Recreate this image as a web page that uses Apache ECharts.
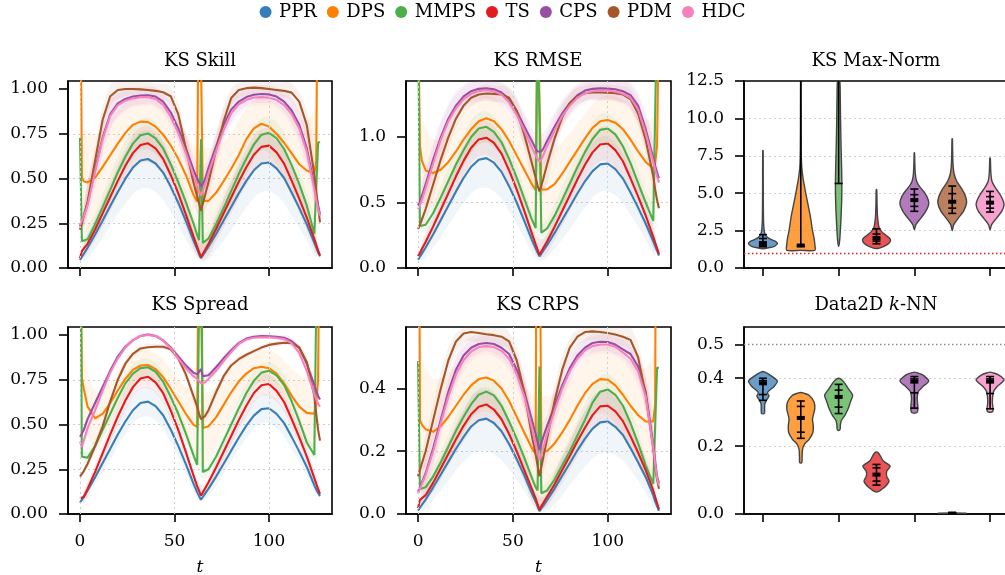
<!DOCTYPE html>
<html>
<head>
<meta charset="utf-8">
<script src="https://cdn.jsdelivr.net/npm/echarts@6/dist/echarts.min.js"></script>
<style>
html,body{margin:0;padding:0;background:#fff}
#chart{width:1005px;height:575px}
</style>
</head>
<body>
<div id="chart"></div>
<script>
// ---- methods and colours ----
const methods = ['PPR', 'DPS', 'MMPS', 'TS', 'CPS', 'PDM', 'HDC'];
const colors = ['#377eb8', '#ff7f00', '#4daf4a', '#e41a1c', '#984ea3', '#a65628', '#f781bf'];

// ---- time steps of the line panels ----
const T = [0,1,2,4, 8,12,16,20,24,28,32,36,40,44,48,52,56,60, 62,63,64,65,66, 68,
           72,76,80,84,88,92,96,100,104,108,112,116,120,124, 125,126,127];
// time steps where the ensemble spread is given
const BT = [2,8,16,24,32,40,48,56,62,66,72,80,88,96,104,112,120,125];

// ---- tick labels ----
const tTicks = [0, 50, 100];
const skillTicks = [0, 0.25, 0.5, 0.75, 1.0];
const rmseTicks = [0, 0.5, 1.0];
const spreadTicks = [0, 0.25, 0.5, 0.75, 1.0];
const crpsTicks = [0, 0.2, 0.4];
const maxNormTicks = [0, 2.5, 5, 7.5, 10, 12.5];
const knnTicks = [0, 0.2, 0.4, 0.5];
const maxNormRef = 1.0;
const knnRef = 0.5;

// ---- KS Skill ----
const skillPPR = [0.045,0.062,0.079,0.113, 0.187,0.266,0.346,0.425,0.499,0.561,0.601,0.609,0.584,0.533,0.455,0.365,0.263,0.155, 0.105,0.078,0.055,0.071,0.087, 0.120, 0.190,0.266,0.341,0.417,0.487,0.546,0.584,0.590,0.557,0.503,0.422,0.336,0.244,0.141, 0.114,0.087,0.065];
const skillDPS = [2,0.50,0.485,0.478, 0.505,0.565,0.63,0.695,0.755,0.80,0.818,0.815,0.79,0.745,0.685,0.61,0.52,0.41, 0.37,2,2,0.375,0.368, 0.375, 0.42,0.485,0.555,0.63,0.72,0.78,0.806,0.79,0.75,0.70,0.64,0.58,0.545,0.53, 0.60,2,2];
const skillMMPS = [0.726,0.150,0.148,0.160, 0.245,0.340,0.437,0.535,0.622,0.695,0.742,0.752,0.725,0.668,0.580,0.480,0.370,0.250, 0.185,0.155,0.720,0.140,0.140, 0.165, 0.245,0.335,0.430,0.525,0.610,0.690,0.745,0.755,0.725,0.665,0.575,0.470,0.350,0.190, 0.180,0.700,0.705];
const skillTS = [0.055,0.095,0.105,0.135, 0.215,0.306,0.397,0.487,0.571,0.642,0.687,0.697,0.668,0.610,0.520,0.417,0.300,0.178, 0.120,0.090,0.060,0.079,0.098, 0.136, 0.218,0.306,0.394,0.482,0.563,0.633,0.677,0.684,0.646,0.583,0.488,0.388,0.281,0.161, 0.129,0.098,0.070];
const skillCPS = [0.233,0.26,0.29,0.36, 0.55,0.73,0.86,0.92,0.945,0.958,0.964,0.965,0.958,0.93,0.87,0.78,0.67,0.55, 0.50,0.48,0.456,0.47,0.49, 0.56, 0.68,0.80,0.885,0.93,0.955,0.968,0.972,0.97,0.958,0.93,0.88,0.80,0.67,0.46, 0.40,0.35,0.30];
const skillPDM = [0.214,0.25,0.29,0.37, 0.60,0.83,0.96,0.995,1.0,1.0,0.998,0.995,0.99,0.982,0.96,0.86,0.67,0.48, 0.40,0.36,0.32,0.36,0.40, 0.48, 0.66,0.82,0.95,0.995,1.005,1.008,1.005,1.0,0.995,0.99,0.98,0.93,0.80,0.52, 0.43,0.34,0.255];
const skillHDC = [0.24,0.265,0.29,0.35, 0.54,0.72,0.85,0.91,0.935,0.948,0.954,0.955,0.945,0.912,0.845,0.755,0.645,0.52, 0.46,0.43,0.405,0.43,0.46, 0.53, 0.655,0.77,0.865,0.915,0.94,0.953,0.955,0.952,0.94,0.91,0.86,0.78,0.65,0.44, 0.38,0.33,0.29];

const skillBandPPR = [0.04,0.08,0.11,0.14,0.16,0.16,0.14,0.10,0.05,0.05,0.09,0.13,0.15,0.16,0.15,0.13,0.09,0.05];
const skillBandDPS = [0.28,0.24,0.20,0.17,0.15,0.15,0.18,0.24,0.30,0.30,0.26,0.20,0.17,0.15,0.17,0.22,0.28,0.30];
const skillBandMMPS = [0.04,0.06,0.08,0.09,0.09,0.09,0.08,0.07,0.05,0.05,0.07,0.08,0.09,0.09,0.09,0.08,0.07,0.05];
const skillBandTS = [0.04,0.06,0.08,0.09,0.10,0.10,0.09,0.07,0.05,0.05,0.07,0.09,0.10,0.10,0.10,0.09,0.07,0.05];
const skillBandCPS = [0.06,0.09,0.08,0.06,0.05,0.05,0.06,0.08,0.09,0.09,0.08,0.07,0.05,0.05,0.05,0.07,0.09,0.08];
const skillBandPDM = [0.05,0.08,0.06,0.04,0.04,0.04,0.05,0.08,0.09,0.09,0.08,0.05,0.04,0.04,0.04,0.05,0.08,0.08];
const skillBandHDC = [0.06,0.09,0.08,0.06,0.05,0.05,0.06,0.08,0.09,0.09,0.08,0.07,0.05,0.05,0.05,0.07,0.09,0.08];

// ---- KS RMSE ----
const rmsePPR = [0.063,0.086,0.11,0.157, 0.258,0.367,0.476,0.585,0.687,0.773,0.827,0.839,0.804,0.734,0.625,0.500,0.360,0.215, 0.150,0.118,0.089,0.110,0.132, 0.175, 0.268,0.368,0.468,0.569,0.662,0.740,0.791,0.798,0.755,0.683,0.576,0.461,0.340,0.204, 0.168,0.132,0.094];
const rmseDPS = [2,0.93,0.82,0.745, 0.725,0.75,0.81,0.89,0.98,1.06,1.12,1.143,1.12,1.06,0.97,0.86,0.75,0.64, 0.595,2,2,0.60,0.59, 0.60, 0.64,0.72,0.81,0.90,0.99,1.07,1.12,1.13,1.11,1.06,0.98,0.89,0.81,0.76, 0.80,0.93,2];
const rmseMMPS = [2,0.32,0.315,0.33, 0.42,0.54,0.665,0.79,0.90,1.0,1.065,1.078,1.04,0.96,0.835,0.69,0.53,0.37, 0.305,2,2,0.27,0.27, 0.30, 0.40,0.52,0.645,0.77,0.885,0.985,1.055,1.065,1.02,0.93,0.80,0.65,0.50,0.36, 0.36,2,2];
const rmseTS = [0.09,0.117,0.145,0.199, 0.318,0.445,0.572,0.700,0.818,0.918,0.982,0.995,0.955,0.873,0.745,0.600,0.436,0.265, 0.18,0.14,0.10,0.126,0.152, 0.203, 0.315,0.435,0.556,0.676,0.788,0.883,0.943,0.951,0.900,0.815,0.685,0.547,0.401,0.238, 0.195,0.152,0.105];
const rmseCPS = [0.477,0.51,0.55,0.64, 0.83,1.0,1.14,1.24,1.31,1.35,1.368,1.372,1.365,1.34,1.29,1.2,1.08,0.97, 0.91,0.89,0.876,0.89,0.91, 0.97, 1.08,1.18,1.26,1.32,1.355,1.368,1.372,1.37,1.365,1.35,1.32,1.24,1.06,0.84, 0.78,0.73,0.685];
const rmsePDM = [0.297,0.33,0.37,0.45, 0.64,0.83,1.0,1.14,1.24,1.30,1.325,1.332,1.33,1.325,1.30,1.2,1.02,0.80, 0.69,0.63,0.584,0.63,0.68, 0.79, 0.99,1.15,1.26,1.31,1.335,1.34,1.34,1.338,1.335,1.325,1.29,1.18,0.98,0.70, 0.60,0.52,0.457];
const rmseHDC = [0.449,0.48,0.52,0.61, 0.80,0.98,1.12,1.22,1.29,1.33,1.352,1.358,1.35,1.325,1.265,1.17,1.05,0.92, 0.86,0.835,0.81,0.83,0.86, 0.93, 1.05,1.16,1.24,1.30,1.335,1.35,1.356,1.355,1.348,1.33,1.30,1.21,1.03,0.81, 0.75,0.70,0.652];

const rmseBandPPR = [0.05,0.10,0.15,0.19,0.22,0.22,0.19,0.13,0.07,0.07,0.12,0.17,0.20,0.21,0.20,0.17,0.12,0.07];
const rmseBandDPS = [0.30,0.26,0.22,0.20,0.18,0.18,0.20,0.25,0.30,0.30,0.27,0.22,0.19,0.18,0.20,0.25,0.32,0.35];
const rmseBandMMPS = [0.05,0.08,0.10,0.12,0.12,0.12,0.11,0.09,0.07,0.07,0.09,0.11,0.12,0.12,0.12,0.11,0.09,0.07];
const rmseBandTS = [0.05,0.08,0.11,0.12,0.13,0.13,0.12,0.10,0.07,0.07,0.10,0.12,0.13,0.13,0.13,0.12,0.10,0.07];
const rmseBandCPS = [0.08,0.12,0.11,0.09,0.08,0.08,0.09,0.11,0.12,0.12,0.11,0.09,0.08,0.08,0.08,0.10,0.12,0.11];
const rmseBandPDM = [0.07,0.11,0.09,0.07,0.06,0.06,0.07,0.11,0.12,0.12,0.11,0.07,0.06,0.06,0.06,0.07,0.11,0.11];
const rmseBandHDC = [0.08,0.12,0.11,0.09,0.08,0.08,0.09,0.11,0.12,0.12,0.11,0.09,0.08,0.08,0.08,0.10,0.12,0.11];

// ---- KS Spread ----
const sprPPR = [0.063,0.08,0.097,0.131, 0.205,0.285,0.364,0.444,0.517,0.580,0.620,0.628,0.603,0.552,0.472,0.381,0.279,0.171, 0.121,0.10,0.08,0.095,0.111, 0.142, 0.209,0.281,0.354,0.426,0.494,0.550,0.586,0.591,0.560,0.508,0.431,0.350,0.263,0.160, 0.137,0.118,0.10];
const sprDPS = [2,0.76,0.70,0.60, 0.535,0.56,0.62,0.69,0.755,0.805,0.83,0.833,0.81,0.765,0.70,0.63,0.56,0.50, 0.487,2,2,0.48,0.478, 0.49, 0.54,0.61,0.68,0.74,0.785,0.815,0.823,0.815,0.785,0.73,0.66,0.60,0.565,0.56, 0.62,0.75,2];
const sprMMPS = [2,0.32,0.31,0.315, 0.38,0.47,0.56,0.65,0.73,0.785,0.815,0.82,0.795,0.74,0.655,0.56,0.45,0.33, 0.275,0.27,2,0.235,0.235, 0.25, 0.32,0.41,0.50,0.59,0.675,0.745,0.79,0.80,0.775,0.72,0.63,0.52,0.40,0.33, 0.33,2,2];
const sprTS = [0.0875,0.09,0.095,0.14, 0.235,0.34,0.445,0.545,0.634,0.709,0.757,0.767,0.736,0.675,0.579,0.470,0.347,0.217, 0.156,0.13,0.102,0.12,0.14, 0.178, 0.26,0.348,0.436,0.524,0.605,0.676,0.719,0.726,0.688,0.626,0.531,0.430,0.322,0.20, 0.17,0.14,0.112];
const sprCPS = [0.432,0.44,0.47,0.53, 0.62,0.71,0.80,0.88,0.935,0.97,0.995,1.003,0.995,0.97,0.93,0.88,0.83,0.79, 0.78,0.79,0.81,0.77,0.765, 0.775, 0.82,0.87,0.915,0.955,0.98,0.99,0.994,0.993,0.99,0.985,0.965,0.93,0.84,0.72, 0.69,0.66,0.64];
const sprPDM = [0.209,0.22,0.24,0.28, 0.38,0.49,0.63,0.75,0.84,0.895,0.925,0.932,0.935,0.935,0.92,0.87,0.78,0.66, 0.60,0.56,0.53,0.535,0.545, 0.58, 0.68,0.77,0.83,0.865,0.89,0.91,0.93,0.945,0.952,0.957,0.955,0.93,0.85,0.66, 0.56,0.47,0.41];
const sprHDC = [0.404,0.375,0.41,0.48, 0.58,0.69,0.79,0.87,0.93,0.97,0.995,1.0,0.995,0.97,0.925,0.87,0.815,0.77, 0.755,0.745,0.73,0.73,0.735, 0.755, 0.80,0.855,0.905,0.95,0.975,0.985,0.988,0.987,0.984,0.978,0.955,0.90,0.80,0.67, 0.64,0.615,0.60];

const sprBandPPR = [0.03,0.04,0.06,0.07,0.08,0.08,0.07,0.05,0.03,0.03,0.05,0.06,0.07,0.08,0.08,0.07,0.05,0.03];
const sprBandDPS = [0.20,0.15,0.12,0.10,0.09,0.09,0.11,0.15,0.20,0.20,0.17,0.13,0.10,0.09,0.11,0.15,0.20,0.22];
const sprBandMMPS = [0.03,0.04,0.05,0.05,0.05,0.05,0.05,0.04,0.04,0.04,0.04,0.05,0.05,0.05,0.05,0.05,0.04,0.03];
const sprBandTS = [0.03,0.04,0.05,0.06,0.06,0.06,0.05,0.04,0.03,0.03,0.04,0.05,0.06,0.06,0.06,0.05,0.04,0.03];
const sprBandCPS = [0.02,0.02,0.02,0.015,0.01,0.01,0.015,0.02,0.02,0.02,0.02,0.02,0.01,0.01,0.01,0.02,0.02,0.02];
const sprBandPDM = [0.02,0.03,0.02,0.02,0.015,0.015,0.02,0.03,0.03,0.03,0.03,0.02,0.015,0.015,0.015,0.02,0.03,0.03];
const sprBandHDC = [0.02,0.02,0.02,0.015,0.01,0.01,0.015,0.02,0.02,0.02,0.02,0.02,0.01,0.01,0.01,0.02,0.02,0.02];

// ---- KS CRPS ----
const crpsPPR = [0.011,0.02,0.029,0.046, 0.085,0.126,0.167,0.208,0.246,0.279,0.299,0.304,0.290,0.264,0.223,0.175,0.123,0.066, 0.04,0.024,0.009,0.018,0.026, 0.044, 0.081,0.122,0.162,0.203,0.24,0.272,0.292,0.295,0.278,0.252,0.21,0.165,0.118,0.06, 0.04,0.025,0.01];
const crpsDPS = [2,0.30,0.285,0.27, 0.262,0.28,0.31,0.345,0.38,0.41,0.43,0.435,0.425,0.40,0.36,0.31,0.26,0.21, 0.192,2,2,0.20,0.195, 0.20, 0.225,0.26,0.30,0.345,0.385,0.415,0.43,0.428,0.41,0.38,0.345,0.315,0.295,0.295, 0.35,2,2];
const crpsMMPS = [0.487,0.08,0.08,0.085, 0.12,0.165,0.215,0.265,0.31,0.35,0.38,0.39,0.378,0.345,0.295,0.24,0.18,0.115, 0.085,0.075,0.47,0.066,0.066, 0.075, 0.11,0.155,0.20,0.25,0.30,0.355,0.39,0.397,0.38,0.345,0.29,0.225,0.155,0.096, 0.096,0.466,0.466];
const crpsTS = [0.018,0.045,0.05,0.06, 0.10,0.146,0.192,0.238,0.281,0.318,0.342,0.349,0.333,0.302,0.255,0.20,0.14,0.08, 0.05,0.032,0.013,0.025,0.035, 0.055, 0.095,0.14,0.185,0.232,0.275,0.315,0.343,0.345,0.327,0.296,0.248,0.196,0.14,0.075, 0.055,0.035,0.015];
const crpsCPS = [0.071,0.085,0.10,0.13, 0.21,0.30,0.39,0.46,0.505,0.53,0.542,0.545,0.542,0.53,0.51,0.46,0.39,0.30, 0.255,0.23,0.205,0.225,0.245, 0.28, 0.345,0.41,0.465,0.505,0.53,0.545,0.549,0.548,0.54,0.525,0.51,0.47,0.39,0.22, 0.17,0.12,0.098];
const crpsPDM = [0.12,0.14,0.16,0.20, 0.30,0.40,0.49,0.55,0.575,0.58,0.577,0.573,0.57,0.565,0.55,0.49,0.39,0.25, 0.19,0.155,0.12,0.15,0.18, 0.24, 0.36,0.46,0.53,0.565,0.58,0.582,0.58,0.577,0.572,0.565,0.555,0.50,0.38,0.21, 0.15,0.11,0.08];
const crpsHDC = [0.065,0.08,0.095,0.125, 0.20,0.29,0.375,0.445,0.49,0.518,0.532,0.535,0.532,0.52,0.495,0.445,0.375,0.275, 0.22,0.195,0.173,0.19,0.21, 0.255, 0.33,0.40,0.455,0.495,0.522,0.535,0.54,0.54,0.533,0.515,0.495,0.455,0.375,0.21, 0.16,0.115,0.09];

const crpsBandPPR = [0.02,0.04,0.06,0.08,0.10,0.10,0.08,0.05,0.02,0.02,0.05,0.07,0.09,0.10,0.09,0.07,0.05,0.02];
const crpsBandDPS = [0.20,0.17,0.14,0.12,0.11,0.11,0.12,0.15,0.18,0.18,0.16,0.13,0.11,0.11,0.12,0.14,0.17,0.18];
const crpsBandMMPS = [0.02,0.03,0.04,0.05,0.05,0.05,0.045,0.035,0.025,0.025,0.035,0.045,0.05,0.05,0.05,0.045,0.035,0.02];
const crpsBandTS = [0.02,0.03,0.04,0.05,0.05,0.05,0.045,0.035,0.02,0.02,0.035,0.045,0.05,0.05,0.05,0.045,0.035,0.02];
const crpsBandCPS = [0.03,0.05,0.05,0.04,0.03,0.03,0.04,0.05,0.05,0.05,0.05,0.04,0.03,0.03,0.03,0.04,0.05,0.05];
const crpsBandPDM = [0.03,0.05,0.04,0.03,0.03,0.03,0.03,0.05,0.05,0.05,0.05,0.03,0.03,0.03,0.03,0.04,0.05,0.05];
const crpsBandHDC = [0.03,0.05,0.05,0.04,0.03,0.03,0.04,0.05,0.05,0.05,0.05,0.04,0.03,0.03,0.03,0.04,0.05,0.05];

// ---- KS Max-Norm violins: [value, half width in category units] ----
const maxNormPPR = [[1.29,0],[1.35,0.15],[1.45,0.30],[1.58,0.37],[1.67,0.38],[1.78,0.33],[1.9,0.22],[2.05,0.12],[2.2,0.07],[2.4,0.04],[2.7,0.025],[3.2,0.015],[4.5,0.01],[6,0.008],[7.8,0.006],[7.85,0]];
const maxNormDPS = [[1.18,0],[1.18,0.37],[1.6,0.37],[2.0,0.35],[2.5,0.31],[3.0,0.28],[3.5,0.25],[4.0,0.21],[4.5,0.17],[5.0,0.13],[5.5,0.095],[6.0,0.06],[6.5,0.035],[7.0,0.02],[8,0.012],[10,0.008],[13.5,0.006],[14,0]];
const maxNormMMPS = [[1.45,0],[1.8,0.025],[2.5,0.045],[3.5,0.065],[4.5,0.08],[5.5,0.085],[6.5,0.08],[8,0.065],[10,0.05],[12,0.04],[14,0.03],[14.5,0]];
const maxNormTS = [[1.3,0],[1.45,0.2],[1.65,0.33],[1.85,0.37],[2.0,0.34],[2.2,0.24],[2.45,0.13],[2.7,0.07],[3.0,0.045],[3.5,0.025],[4.2,0.015],[5.2,0.008],[5.25,0]];
const maxNormCPS = [[2.55,0],[2.9,0.04],[3.3,0.16],[3.7,0.28],[4.1,0.36],[4.35,0.38],[4.6,0.36],[5.0,0.28],[5.4,0.15],[5.8,0.06],[6.3,0.025],[7,0.012],[7.65,0.006],[7.7,0]];
const maxNormPDM = [[2.5,0],[2.9,0.04],[3.3,0.15],[3.8,0.30],[4.35,0.38],[4.8,0.35],[5.3,0.25],[5.8,0.12],[6.3,0.05],[7,0.02],[8,0.01],[8.6,0.006],[8.65,0]];
const maxNormHDC = [[2.55,0],[2.9,0.04],[3.3,0.16],[3.8,0.31],[4.25,0.37],[4.6,0.33],[5.0,0.24],[5.4,0.13],[5.8,0.05],[6.4,0.02],[7.3,0.008],[7.35,0]];
// quantile marks: [low, q1, median, q3, high]
const maxNormQPPR = [1.42,1.52,1.67,1.97,2.23];
const maxNormQDPS = [1.46,1.48,1.50,14,20];
const maxNormQMMPS = [5.65,14,18,22,30];
const maxNormQTS = [1.62,1.80,2.00,2.27,2.62];
const maxNormQCPS = [3.79,4.12,4.54,4.90,5.28];
const maxNormQPDM = [3.65,4.00,4.43,4.97,5.48];
const maxNormQHDC = [3.74,4.00,4.37,4.77,5.12];

// ---- Data2D k-NN violins ----
const knnPPR = [[0.295,0],[0.297,0.04],[0.31,0.045],[0.325,0.05],[0.338,0.11],[0.348,0.16],[0.357,0.12],[0.365,0.18],[0.375,0.29],[0.392,0.38],[0.41,0.18],[0.418,0.05],[0.42,0]];
const knnDPS = [[0.15,0],[0.152,0.03],[0.17,0.035],[0.19,0.045],[0.206,0.10],[0.22,0.22],[0.24,0.32],[0.26,0.33],[0.28,0.31],[0.31,0.37],[0.33,0.35],[0.35,0.22],[0.356,0.08],[0.358,0]];
const knnMMPS = [[0.246,0],[0.25,0.04],[0.262,0.045],[0.275,0.07],[0.29,0.16],[0.31,0.25],[0.33,0.31],[0.35,0.37],[0.37,0.25],[0.39,0.13],[0.398,0.05],[0.40,0]];
const knnTS = [[0.065,0],[0.067,0.06],[0.072,0.13],[0.082,0.24],[0.097,0.33],[0.111,0.27],[0.126,0.27],[0.141,0.36],[0.156,0.18],[0.171,0.10],[0.18,0.05],[0.183,0]];
const knnCPS = [[0.297,0],[0.299,0.07],[0.305,0.09],[0.32,0.09],[0.34,0.075],[0.36,0.10],[0.375,0.22],[0.392,0.38],[0.41,0.22],[0.416,0.08],[0.418,0]];
const knnPDM = [[0.0,0],[0.0005,0.37],[0.0025,0.37],[0.003,0]];
const knnHDC = [[0.30,0],[0.302,0.07],[0.31,0.08],[0.33,0.06],[0.36,0.09],[0.375,0.18],[0.395,0.37],[0.41,0.22],[0.416,0.08],[0.418,0]];
const knnQPPR = [0.335,0.352,0.385,0.393,0.400];
const knnQDPS = [0.223,0.241,0.283,0.317,0.333];
const knnQMMPS = [0.296,0.315,0.345,0.365,0.382];
const knnQTS = [0.085,0.097,0.116,0.136,0.146];
const knnQCPS = [0.312,0.357,0.390,0.398,0.405];
const knnQPDM = [0.001,0.0012,0.0015,0.0018,0.002];
const knnQHDC = [0.310,0.355,0.390,0.398,0.405];

// ---------------------------------------------------------------
const FONT = 'DejaVu Serif';
const TICK_SIZE = 17;
const TITLE_SIZE = 18;
const LEGEND_SIZE = 18;
const LINE_W = 1.6;

function rgba(hex, a) {
  const n = parseInt(hex.slice(1), 16);
  return 'rgba(' + (n >> 16 & 255) + ',' + (n >> 8 & 255) + ',' + (n & 255) + ',' + a + ')';
}

const panels = [
  { title: 'KS Skill',  lines: [skillPPR, skillDPS, skillMMPS, skillTS, skillCPS, skillPDM, skillHDC],
    bands: [skillBandPPR, skillBandDPS, skillBandMMPS, skillBandTS, skillBandCPS, skillBandPDM, skillBandHDC],
    max: 1.045, interval: 0.25, ticks: skillTicks, dec: 2 },
  { title: 'KS RMSE',   lines: [rmsePPR, rmseDPS, rmseMMPS, rmseTS, rmseCPS, rmsePDM, rmseHDC],
    bands: [rmseBandPPR, rmseBandDPS, rmseBandMMPS, rmseBandTS, rmseBandCPS, rmseBandPDM, rmseBandHDC],
    max: 1.428, interval: 0.5, ticks: rmseTicks, dec: 1 },
  null,
  { title: 'KS Spread', lines: [sprPPR, sprDPS, sprMMPS, sprTS, sprCPS, sprPDM, sprHDC],
    bands: [sprBandPPR, sprBandDPS, sprBandMMPS, sprBandTS, sprBandCPS, sprBandPDM, sprBandHDC],
    max: 1.045, interval: 0.25, ticks: spreadTicks, dec: 2 },
  { title: 'KS CRPS',   lines: [crpsPPR, crpsDPS, crpsMMPS, crpsTS, crpsCPS, crpsPDM, crpsHDC],
    bands: [crpsBandPPR, crpsBandDPS, crpsBandMMPS, crpsBandTS, crpsBandCPS, crpsBandPDM, crpsBandHDC],
    max: 0.596, interval: 0.2, ticks: crpsTicks, dec: 1 },
  null
];

const gridRects = [
  [68, 81, 264, 187], [406, 81, 265, 187], [744, 81, 265, 187],
  [68, 327, 264, 187], [406, 327, 265, 187], [744, 327, 265, 187]
];

const grids = gridRects.map(([l, t, w, h]) => ({
  left: l, top: t, width: w, height: h,
  show: true, borderColor: '#000', borderWidth: LINE_W, backgroundColor: 'transparent',
  containLabel: false, outerBoundsMode: 'none'
}));

const axisLine = { show: true, onZero: false, lineStyle: { color: '#000', width: LINE_W } };
const tickStyle = { color: '#000', width: LINE_W };
const labelStyle = { fontFamily: FONT, fontSize: TICK_SIZE, color: '#000' };
const gridLine = { show: true, showMinLine: false, showMaxLine: false,
  lineStyle: { color: '#cfcfcf', width: 1, type: [2, 3] } };

// one x axis and one y axis per grid, stored at the grid's index
const xAxes = new Array(6), yAxes = new Array(6), series = [];

function yAxisFor(gi, max, interval, ticks, dec) {
  return {
    type: 'value', gridIndex: gi, min: 0, max: max, interval: interval,
    axisLine: axisLine,
    axisTick: { show: true, length: 9, customValues: ticks, lineStyle: tickStyle },
    axisLabel: Object.assign({ show: true, margin: 20, customValues: ticks,
      formatter: v => Number(v).toFixed(dec) }, labelStyle),
    splitLine: gridLine
  };
}

panels.forEach((p, gi) => {
  if (!p) return;
  const bottom = gi >= 3;
  xAxes[gi] = {
    type: 'value', gridIndex: gi, min: -6.35, max: 133.35,
    axisLine: axisLine,
    axisTick: { show: true, length: 8, customValues: tTicks, lineStyle: tickStyle },
    axisLabel: Object.assign({ show: bottom, margin: 19, customValues: tTicks,
      formatter: v => String(v) }, labelStyle),
    splitLine: { show: false },
    name: bottom ? 't' : '', nameLocation: 'middle', nameGap: 45,
    nameTextStyle: { fontFamily: FONT, fontSize: TICK_SIZE, fontStyle: 'italic', color: '#000' }
  };
  yAxes[gi] = yAxisFor(gi, p.max, p.interval, p.ticks, p.dec);

  // vertical dotted guides at the labelled time steps
  series.push({
    type: 'line', xAxisIndex: gi, yAxisIndex: gi, data: [], z: 1, silent: true,
    markLine: { silent: true, symbol: ['none', 'none'], label: { show: false }, animation: false,
      lineStyle: { color: '#cfcfcf', width: 1, type: [2, 3] },
      data: tTicks.map(t => ({ xAxis: t })) }
  });

  // ensemble spread bands
  p.bands.forEach((spread, m) => {
    const vals = p.lines[m];
    const pts = BT.map((t, k) => {
      const c = vals[T.indexOf(t)];
      return [t, c - spread[k], c + spread[k]];
    });
    series.push({
      type: 'custom', xAxisIndex: gi, yAxisIndex: gi, z: 2, silent: true,
      data: pts, encode: { x: 0, y: [1, 2] },
      renderItem: (params, api) => {
        if (params.dataIndex !== 0) return null;
        const cs = params.coordSys;
        const cl = y => Math.max(cs.y, Math.min(cs.y + cs.height, y));
        const up = pts.map(q => api.coord([q[0], q[2]]));
        const lo = pts.map(q => api.coord([q[0], q[1]])).reverse();
        const points = up.concat(lo).map(([x, y]) => [x, cl(y)]);
        return { type: 'polygon', shape: { points: points, smooth: 0.45 },
          style: { fill: rgba(colors[m], 0.08) }, silent: true };
      }
    });
  });

  // mean curves
  p.lines.forEach((vals, m) => {
    series.push({
      type: 'line', name: methods[m], xAxisIndex: gi, yAxisIndex: gi, z: 3,
      data: T.map((t, k) => [t, vals[k]]),
      symbol: 'none', clip: true,
      lineStyle: { color: colors[m], width: 2.1 },
      itemStyle: { color: colors[m] }
    });
  });
});

function addViolinPanel(gi, profiles, quants, max, interval, ticks, ref, refColor) {
  xAxes[gi] = {
    type: 'category', gridIndex: gi, data: methods, boundaryGap: true,
    axisLine: axisLine,
    axisTick: { show: true, length: 8, alignWithLabel: true, lineStyle: tickStyle },
    axisLabel: { show: false }, splitLine: { show: false }
  };
  yAxes[gi] = yAxisFor(gi, max, interval, ticks, 1);
  series.push({
    type: 'line', xAxisIndex: gi, yAxisIndex: gi, data: [], z: 1, silent: true,
    markLine: { silent: true, symbol: ['none', 'none'], label: { show: false }, animation: false,
      lineStyle: { color: refColor, width: 1.3, type: [1.5, 2.5] },
      data: [{ yAxis: ref }] }
  });
  series.push({
    type: 'custom', xAxisIndex: gi, yAxisIndex: gi, z: 3, clip: true, silent: true,
    data: profiles.map((p, i) => [i, quants[i][2]]),
    encode: { x: 0, y: 1 },
    renderItem: (params, api) => {
      const i = params.dataIndex, cs = params.coordSys;
      const cl = y => Math.max(cs.y, Math.min(cs.y + cs.height, y));
      const bw = api.size([1, 0])[0];
      const cx = api.coord([i, 0])[0];
      const py = v => api.coord([i, v])[1];
      const prof = profiles[i];
      const right = prof.map(([v, h]) => [cx + h * bw, cl(py(v))]);
      const left = prof.filter(([v, h]) => h > 0).reverse().map(([v, h]) => [cx - h * bw, cl(py(v))]);
      const children = [{
        type: 'polygon', shape: { points: right.concat(left), smooth: 0.25 },
        style: { fill: rgba(colors[i], 0.75), stroke: '#444', lineWidth: 1.4 }
      }];
      const q = quants[i];
      const inside = y => y >= cs.y - 0.5 && y <= cs.y + cs.height + 0.5;
      const y0 = cl(py(q[0])), y1 = cl(py(q[4]));
      children.push({ type: 'line', shape: { x1: cx, y1: y0, x2: cx, y2: y1 },
        style: { stroke: '#000', lineWidth: 1.6 } });
      [0, 1, 3, 4].forEach(k => {
        const y = py(q[k]);
        if (inside(y)) children.push({ type: 'line', shape: { x1: cx - 4, y1: y, x2: cx + 4, y2: y },
          style: { stroke: '#000', lineWidth: 1.6 } });
      });
      const ym = py(q[2]);
      if (inside(ym)) children.push({ type: 'rect', shape: { x: cx - 4, y: ym - 2, width: 8, height: 4 },
        style: { fill: '#000' } });
      return { type: 'group', children: children };
    }
  });
}

addViolinPanel(2,
  [maxNormPPR, maxNormDPS, maxNormMMPS, maxNormTS, maxNormCPS, maxNormPDM, maxNormHDC],
  [maxNormQPPR, maxNormQDPS, maxNormQMMPS, maxNormQTS, maxNormQCPS, maxNormQPDM, maxNormQHDC],
  12.5, 2.5, maxNormTicks, maxNormRef, '#e41a1c');
addViolinPanel(5,
  [knnPPR, knnDPS, knnMMPS, knnTS, knnCPS, knnPDM, knnHDC],
  [knnQPPR, knnQDPS, knnQMMPS, knnQTS, knnQCPS, knnQPDM, knnQHDC],
  0.551, 0.2, knnTicks, knnRef, '#8c8c8c');

const titleStyle = { fontFamily: FONT, fontSize: TITLE_SIZE, fontWeight: 'normal', color: '#000' };
const titles = [
  ['KS Skill', 200, 52], ['KS RMSE', 538, 52], ['KS Max-Norm', 876, 52],
  ['KS Spread', 200, 296], ['KS CRPS', 538, 296], ['Data2D {i|k}-NN', 876, 296]
].map(([text, x, y]) => ({
  text: text, left: x, top: y, textAlign: 'center', padding: 0,
  textStyle: Object.assign({}, titleStyle, {
    rich: { i: { fontFamily: FONT, fontSize: TITLE_SIZE, fontStyle: 'italic', color: '#000' } }
  })
}));

const chart = echarts.init(document.getElementById('chart'), null, { renderer: 'canvas' });
chart.setOption({
  animation: false,
  backgroundColor: '#fff',
  title: titles,
  legend: {
    data: methods.map(n => ({ name: n, icon: 'circle' })),
    left: 'center', top: 3, padding: 0, itemWidth: 17, itemHeight: 12, itemGap: 10,
    textStyle: { fontFamily: FONT, fontSize: LEGEND_SIZE, color: '#000' },
    selectedMode: false
  },
  grid: grids,
  xAxis: xAxes,
  yAxis: yAxes,
  series: series
});
</script>
</body>
</html>
